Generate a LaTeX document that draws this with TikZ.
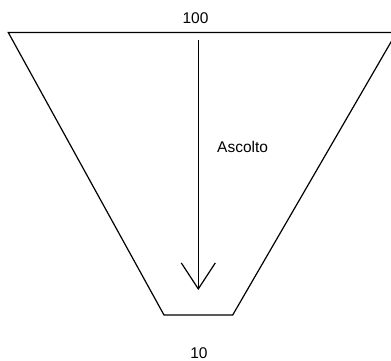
\documentclass[tikz,border=0pt]{standalone}
\usepackage{fontspec}
\setmainfont{Liberation Sans}
\usetikzlibrary{arrows.meta}
\begin{document}
\begin{tikzpicture}[x=1pt,y=-1pt,
  lbl/.style={font=\fontsize{15.5}{18}\selectfont, inner sep=0pt},
  edge/.style={line width=1.2pt, line join=miter}]
\useasboundingbox (0,0) rectangle (391,360);
\clip (0,0) rectangle (391,360);
\coordinate (tl) at (8.3,32.5);
\coordinate (tr) at (396.5,32.5);
\coordinate (br) at (232.7,315);
\coordinate (bl) at (164,315);
\draw[edge] (tl) -- (tr) -- (br) -- (bl) -- cycle;
\coordinate (s) at (198.3,40);
\coordinate (t) at (198.3,290);
\draw[edge, -{Straight Barb[length=26pt,width=34pt,line width=1.2pt]}] (s) -- (t);
\node[lbl, anchor=base] (top) at (195.5,23.3) {100};
\node[lbl, anchor=base west] (asc) at (217,152) {Ascolto};
\node[lbl, anchor=base] (bot) at (199,358) {10};
\end{tikzpicture}
\end{document}
